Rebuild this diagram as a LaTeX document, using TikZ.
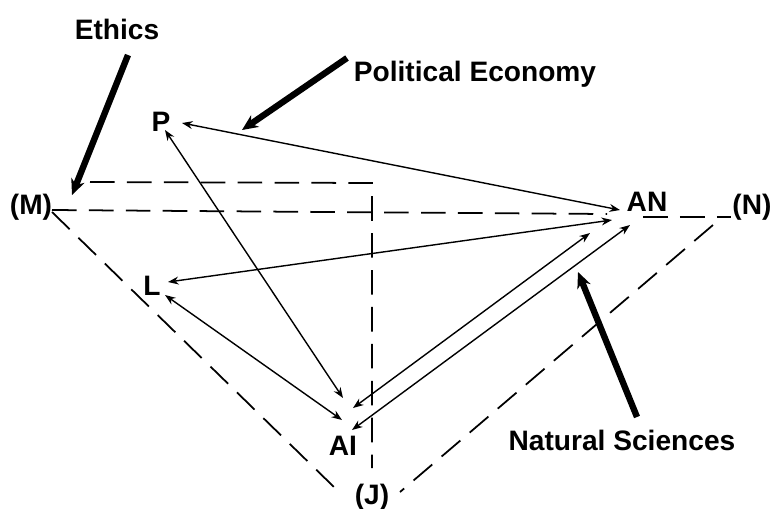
\documentclass[tikz,border=0pt]{standalone}
\usepackage{fontspec}
\setmainfont{Liberation Sans}
\usetikzlibrary{arrows.meta,calc}

\tikzset{
  lbl/.style={font=\bfseries\fontsize{16}{19}\selectfont, inner sep=0pt},
  link/.style={line width=0.8pt, {Stealth[length=6pt,width=4.5pt]}-{Stealth[length=6pt,width=4.5pt]}},
  guide/.style={line width=1pt, dash pattern=on 14pt off 7pt},
  pointer/.style={line width=3.6pt, -{Stealth[length=9pt,width=8pt]}}
}

\begin{document}
\begin{tikzpicture}[x=0.2mm, y=-0.2mm]
      \useasboundingbox (0,0) rectangle (773,508);

      % Corners of the field
      \node[lbl] (M) at (31,207) {(M)};
      \node[lbl] (N) at (752,207) {(N)};
      \node[lbl] (J) at (372,497) {(J)};

      % Points inside
      \node[lbl] (P) at (161,122) {P};
      \node[lbl] (L) at (152,286) {L};
      \node[lbl] (AI) at (343,446) {AI};
      \node[lbl] (AN) at (647,202) {AN};

      % Disciplines
      \node[lbl] (ethics) at (117,29) {Ethics};
      \node[lbl] (polecon) at (475,74) {Political Economy};
      \node[lbl] (natsci) at (622,440) {Natural Sciences};

      % Dashed frame
      \draw[guide] ($(M)+(21,3)$) -- ($(AN)+(-40,12)$);
      \draw[guide] ($(AN)+(-4,15)$) -- ($(N)+(-21,10)$);
      \draw[guide] ($(M)+(21,5)$) -- ($(J)+(-37,-9)$);
      \draw[guide] ($(N)+(-39,18)$) -- ($(J)+(28,-5)$);

      \coordinate (c1) at (90,182);
      \coordinate (c2) at (372,183);
      \coordinate (c3) at (372,468);
      \draw[guide] (c1) -- (c2) -- (c3);

      % Relations
      \draw[link] ($(P)+(21,1)$) -- ($(AN)+(-27,8)$);
      \draw[link] ($(P)+(4,8)$) -- ($(AI)+(0,-48)$);
      \draw[link] ($(L)+(16,-4)$) -- ($(AN)+(-35,18)$);
      \draw[link] ($(L)+(13,9)$) -- ($(AI)+(-1,-26)$);
      \draw[link] ($(AI)+(10,-38)$) -- ($(AN)+(-57,31)$);
      \draw[link] ($(AI)+(9,-16)$) -- ($(AN)+(-17,23)$);

      % Heavy pointers
      \coordinate (ns-tip) at (578,272);
      \draw[pointer] ($(ethics)+(11,26)$) -- ($(M)+(41,-12)$);
      \draw[pointer] ($(polecon)+(-128,-16)$) -- ($(P)+(81,8)$);
      \draw[pointer] ($(natsci)+(15,-23)$) -- (ns-tip);
    \end{tikzpicture}
\end{document}
